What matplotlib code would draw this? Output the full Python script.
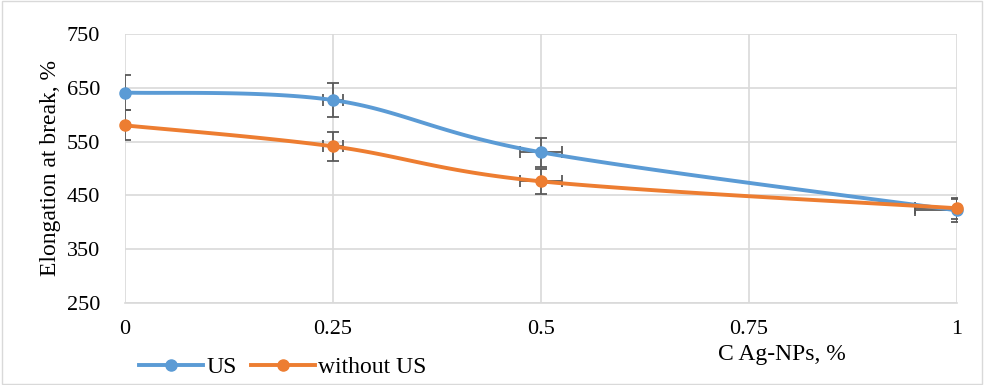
import numpy as np
import matplotlib.pyplot as plt

plt.rcParams['font.family'] = ['Liberation Serif', 'DejaVu Serif']

conc = [0, 0.25, 0.5, 1]
us = [641, 627, 530, 422]
without_us = [580, 541, 476, 426]
us_err = [32, 31, 27, 22]
without_err = [28, 27, 23, 20]
x_err = [0, 0.012, 0.025, 0.05]


def smooth(x, y, n=40):
    # catmull-rom like Excel's smoothed line
    x = np.asarray(x, float)
    y = np.asarray(y, float)
    px = np.concatenate([[x[0]], x, [x[-1]]])
    py = np.concatenate([[y[0]], y, [y[-1]]])
    xs, ys = [], []
    for i in range(1, len(px) - 2):
        t = np.linspace(0, 1, n)
        p0, p1, p2, p3 = [np.array([px[j], py[j]]) for j in range(i - 1, i + 3)]
        t = t[:, None]
        pts = 0.5 * ((2 * p1) + (-p0 + p2) * t + (2 * p0 - 5 * p1 + 4 * p2 - p3) * t ** 2
                     + (-p0 + 3 * p1 - 3 * p2 + p3) * t ** 3)
        xs.extend(pts[:, 0])
        ys.extend(pts[:, 1])
    return xs, ys


fig = plt.figure(figsize=(9.84, 3.85), dpi=100)
ax = fig.add_axes([0.127, 0.213, 0.8456, 0.699])

blue = '#5B9BD5'
orange = '#ED7D31'
ecol = '#595959'

ax.errorbar(conc, us, yerr=us_err, xerr=x_err, fmt='none', ecolor=ecol,
            elinewidth=1.3, capsize=4, capthick=1.3, zorder=2, clip_on=True)
ax.errorbar(conc, without_us, yerr=without_err, xerr=x_err, fmt='none', ecolor=ecol,
            elinewidth=1.3, capsize=4, capthick=1.3, zorder=2, clip_on=True)

sx, sy = smooth(conc, us)
ax.plot(sx, sy, color=blue, lw=2.8, zorder=3, solid_capstyle='round')
ax.plot(conc, us, 'o', color=blue, ms=8, zorder=4, clip_on=False)
sx, sy = smooth(conc, without_us)
ax.plot(sx, sy, color=orange, lw=2.8, zorder=3, solid_capstyle='round')
ax.plot(conc, without_us, 'o', color=orange, ms=8, zorder=4, clip_on=False)

ax.plot([], [], '-o', color=blue, lw=2.8, ms=8, label='US')
ax.plot([], [], '-o', color=orange, lw=2.8, ms=8, label='without US')

ax.set_xlim(0, 1)
ax.set_ylim(250, 750)
ax.set_xticks([0, 0.25, 0.5, 0.75, 1])
ax.set_xticklabels(['0', '0.25', '0.5', '0.75', '1'])
ax.set_yticks([250, 350, 450, 550, 650, 750])
ax.tick_params(axis='y', length=0, labelsize=16, pad=18)
ax.tick_params(axis='x', length=0, labelsize=16, pad=12)
ax.grid(True, color='#D9D9D9', lw=1.2)
ax.set_axisbelow(True)
for s in ['top', 'right', 'left']:
    ax.spines[s].set_visible(False)
ax.spines['bottom'].set_color('#D9D9D9')
ax.spines['bottom'].set_linewidth(1.2)

ax.set_ylabel('Elongation at break, %', fontsize=17, labelpad=4)
fig.text(0.795, 0.078, 'C Ag-NPs, %', fontsize=17, ha='center', va='center')

fig.legend(handles=ax.get_lines()[-2:], loc='center left', bbox_to_anchor=(0.132, 0.045),
           ncol=2, frameon=False, fontsize=17, handlelength=2.7, columnspacing=0.6,
           handletextpad=0.15, borderaxespad=0)

fig.add_artist(plt.Rectangle((0.002, 0.003), 0.996, 0.994, transform=fig.transFigure,
                             fill=False, edgecolor='#D9D9D9', lw=1))

fig.savefig('out.png', dpi=100)
